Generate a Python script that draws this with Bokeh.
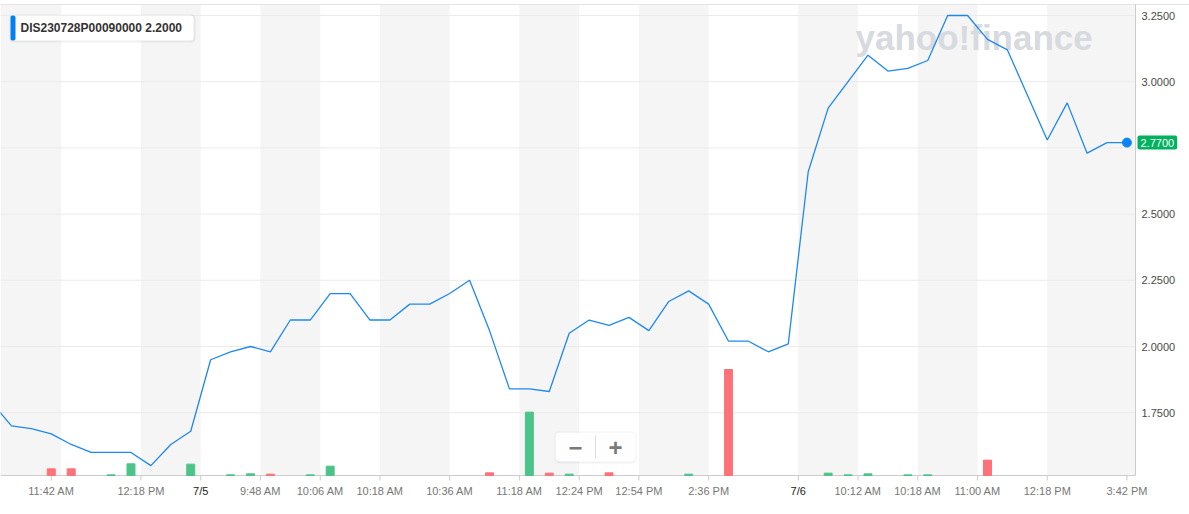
from bokeh.plotting import figure
from bokeh.models import (Range1d, BoxAnnotation, Label, ColumnDataSource)
from bokeh.core.properties import value
from bokeh.embed import file_html
from bokeh.resources import INLINE

# ---------------- data ----------------
idx = list(range(-1, 57))
close = [1.79, 1.70, 1.69, 1.67, 1.63, 1.60, 1.60, 1.60, 1.55, 1.63,
         1.68, 1.95, 1.98, 2.00, 1.98, 2.10, 2.10, 2.20, 2.20, 2.10,
         2.10, 2.16, 2.16, 2.20, 2.25, 2.06, 1.84, 1.84, 1.83, 2.05,
         2.10, 2.08, 2.11, 2.06, 2.17, 2.21, 2.16, 2.02, 2.02, 1.98,
         2.01, 2.66, 2.90, 3.00, 3.10, 3.04, 3.05, 3.08, 3.25, 3.25,
         3.16, 3.12, 2.95, 2.78, 2.92, 2.73, 2.77, 2.77]
volume = [0, 0, 0, 20, 20, 0, 2, 35, 0, 0,
          34, 0, 2, 5, 4, 0, 2, 28, 0, 0,
          0, 0, 0, 0, 0, 8, 0, 190, 7, 4,
          0, 8, 0, 0, 0, 4, 0, 318, 0, 0,
          0, 0, 7, 2, 5, 0, 2, 2, 0, 0,
          46, 0, 0, 0, 0, 0, 0, 0]
tick_pos = [2, 6.5, 9.5, 12.5, 15.5, 18.5, 22, 25.5, 28.5, 31.5, 35,
            39.5, 42.5, 45.5, 48.5, 52, 56]
tick_labels = ["11:42 AM", "12:18 PM", "7/5", "9:48 AM", "10:06 AM", "10:18 AM",
               "10:36 AM", "11:18 AM", "12:24 PM", "12:54 PM", "2:36 PM",
               "7/6", "10:12 AM", "10:18 AM", "11:00 AM", "12:18 PM", "3:42 PM"]
day_labels = ["7/5", "7/6"]
y_ticks = [1.75, 2.00, 2.25, 2.50, 2.75, 3.00, 3.25]
band_left = [None, 6.5, 12.5, 18.5, 25.5, 31.5, 39.5, 45.5, 52]
band_right = [2.5, 9.5, 15.5, 22, 28.5, 35, 42.5, 48.5, None]
symbol = "DIS230728P00090000"
legend_value = 2.2000

# ---------------- layout (pixels of the 1189 x 514 canvas) ----------------
W, H = 1189, 514
PLOT_R = 1135          # right edge of the plotting area
PLOT_T, PLOT_B = 4, 475
X0, PXX = -0.55, 1135 / 56.98      # x value at pixel 0, pixels per index step
Y_REF, Y_REF_PX, PXY = 3.25, 15, 264.8


def xv(px):
    return X0 + px / PXX


def yv(py):
    return Y_REF - (py - Y_REF_PX) / PXY


def fy(py):
    return H - py


X_END, X_MAX = xv(PLOT_R), xv(W)
Y_TOP, Y_BOT = yv(PLOT_T), yv(PLOT_B)

LINE = "#1e88f0"
GREEN = "#4cc489"
RED = "#ff7179"
AXIS = "#cccccc"
FONT = "Liberation Sans"

p = figure(width=W, height=H, x_range=Range1d(X0, X_MAX), y_range=Range1d(yv(H), yv(0)),
           x_axis_location=None, y_axis_location=None,
           output_backend="svg", toolbar_location=None, min_border=0,
           background_fill_color="white", border_fill_color="white")
p.outline_line_color = None
p.grid.visible = False
# volume scale: 3 units per pixel, zero on the plot's bottom edge
p.extra_y_ranges = {"vol": Range1d(-(H - PLOT_B) * 3, PLOT_B * 3)}

# session bands
for a, b in zip(band_left, band_right):
    p.add_layout(BoxAnnotation(left=a, right=X_END if b is None else b,
                               bottom=Y_BOT, top=Y_TOP,
                               fill_color="#f5f5f5", fill_alpha=1,
                               line_color=None, level="image"))

# watermark
p.add_layout(Label(x=855, y=fy(37), x_units="screen", y_units="screen",
                   text="yahoo!finance", text_font=FONT, text_font_size="35px",
                   text_font_style="bold", text_color="#d7dade",
                   text_baseline="alphabetic", level="underlay"))

# grid lines, frame lines
p.segment(x0=[X0] * len(y_ticks), x1=[X_END] * len(y_ticks), y0=y_ticks, y1=y_ticks,
          line_color="#ebebeb", line_width=1)
p.segment(x0=[X0], x1=[X_MAX], y0=[Y_TOP], y1=[Y_TOP], line_color="#e2e4e8", line_width=1)
p.segment(x0=[X0], x1=[X_END], y0=[Y_BOT], y1=[Y_BOT], line_color=AXIS, line_width=1)
p.segment(x0=[X_END], x1=[X_END], y0=[Y_BOT], y1=[Y_TOP], line_color=AXIS, line_width=1)

# x ticks and labels
p.segment(x0=tick_pos, x1=tick_pos, y0=[Y_BOT] * len(tick_pos),
          y1=[yv(PLOT_B + 5)] * len(tick_pos), line_color=AXIS, line_width=1)
xl = ColumnDataSource(dict(
    x=tick_pos, y=[Y_BOT] * len(tick_pos), text=tick_labels,
    c=["#222222" if l in day_labels else "#777777" for l in tick_labels]))
p.text(x="x", y="y", text="text", source=xl, text_color="c",
       text_font=value(FONT), text_font_size=value("11px"),
       text_align="center", text_baseline="middle", y_offset=15)

# y labels (the one under the last-price tag is hidden, as on the original)
tag_tick = min(y_ticks, key=lambda t: abs(t - close[-1]))
shown = [t for t in y_ticks if t != tag_tick]
yl = ColumnDataSource(dict(x=[X_END] * len(shown), y=shown,
                           text=[f"{t:.4f}" for t in shown]))
p.text(x="x", y="y", text="text", source=yl, text_color="#4a4a4a",
       text_font=value(FONT), text_font_size=value("11px"),
       text_align="left", text_baseline="middle", x_offset=6)

# volume bars
vx, vt, vc = [], [], []
for i in range(1, len(idx)):
    if volume[i] > 0:
        vx.append(idx[i])
        vt.append(volume[i])
        vc.append(GREEN if close[i] >= close[i - 1] else RED)
p.vbar(x="x", top="top", bottom=0, width=0.4, color="c", y_range_name="vol",
       source=ColumnDataSource(dict(x=vx, top=vt, c=vc)))

# price line
p.line(idx, close, line_color=LINE, line_width=1.3)
p.scatter([idx[-1]], [close[-1]], size=9, color="#0a84f5")

# last price tag
p.add_layout(Label(x=X_END, y=close[-1], x_offset=2,
                   text=f"{close[-1]:.4f}", text_font=FONT, text_font_size="11px",
                   text_color="white", text_baseline="middle", text_align="left",
                   background_fill_color="#00b15d", background_fill_alpha=1,
                   padding=dict(left=3, right=3, top=3, bottom=3), border_radius=2))

# legend box
scr = dict(left_units="screen", right_units="screen", top_units="screen", bottom_units="screen")
p.add_layout(BoxAnnotation(left=9, right=195, top=fy(14), bottom=fy(42),
                           fill_color="#000000", fill_alpha=0.06, line_color=None,
                           border_radius=4, **scr))
p.add_layout(BoxAnnotation(left=10, right=193, top=fy(15), bottom=fy(40),
                           fill_color="white", fill_alpha=1, line_color=None,
                           border_radius=3, **scr))
p.add_layout(BoxAnnotation(left=10, right=15, top=fy(15), bottom=fy(40),
                           fill_color="#0081f2", fill_alpha=1, line_color=None,
                           border_radius=2, **scr))
p.add_layout(Label(x=20, y=fy(27.5), x_units="screen", y_units="screen",
                   text=f"{symbol} {legend_value:.4f}", text_font=FONT,
                   text_font_size="12px", text_font_style="bold", text_color="#333333",
                   text_baseline="middle"))

# zoom control
p.add_layout(BoxAnnotation(left=554, right=636, top=fy(431), bottom=fy(463),
                           fill_color="#000000", fill_alpha=0.05, line_color=None,
                           border_radius=5, **scr))
p.add_layout(BoxAnnotation(left=555, right=635, top=fy(432), bottom=fy(461),
                           fill_color="white", fill_alpha=0.92, line_color=None,
                           border_radius=4, **scr))
p.add_layout(BoxAnnotation(left=594.5, right=595.5, top=fy(435), bottom=fy(458),
                           fill_color="#dddddd", fill_alpha=1, line_color=None, **scr))
for sym, px in (("\u2212", 575), ("+", 615)):
    p.add_layout(Label(x=px, y=fy(446.5), x_units="screen", y_units="screen",
                       text=sym, text_font=FONT, text_font_size="24px",
                       text_font_style="bold", text_color="#7a7a7a",
                       text_align="center", text_baseline="middle"))

open("out.html", "w").write(file_html(p, INLINE))
